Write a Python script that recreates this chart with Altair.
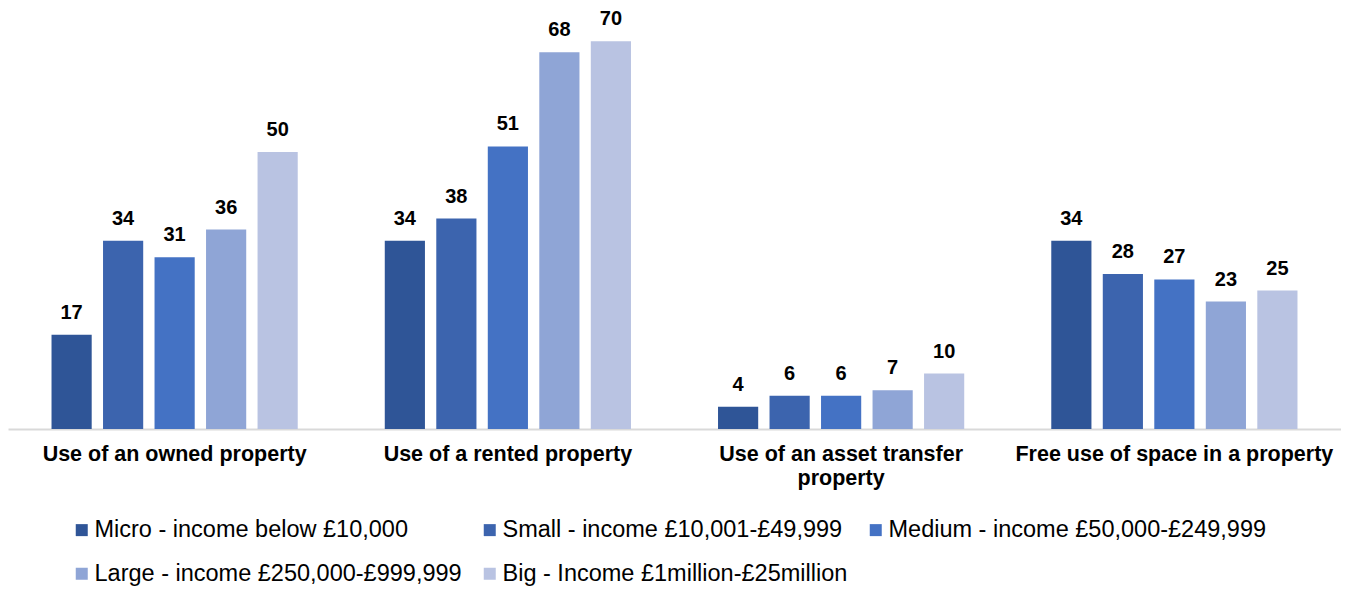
import altair as alt
import pandas as pd

categories = ["Use of an owned property", "Use of a rented property",
              "Use of an asset transfer property", "Free use of space in a property"]
series = ["Micro - income below £10,000", "Small - income £10,001-£49,999",
          "Medium - income £50,000-£249,999", "Large - income £250,000-£999,999",
          "Big - Income £1million-£25million"]
micro = [17, 34, 4, 34]
small = [34, 38, 6, 28]
medium = [31, 51, 6, 27]
large = [36, 68, 7, 23]
big = [50, 70, 10, 25]
colors = ["#2F5597", "#3C64AE", "#4472C4", "#8FA5D6", "#B9C3E2"]

rows = []
for s, vals in zip(series, [micro, small, medium, large, big]):
    for c, v in zip(categories, vals):
        rows.append({"category": c, "series": s, "value": v})
df = pd.DataFrame(rows)

font = "Liberation Sans"

x = alt.X("category:N", sort=categories, title=None,
          scale=alt.Scale(paddingInner=0, paddingOuter=0),
          axis=alt.Axis(labelAngle=0, labelFont=font, labelFontSize=21.5, labelFontWeight="bold",
                        labelColor="#000000", labelPadding=14, ticks=False,
                        domainColor="#D9D9D9", domainWidth=2, labelLimit=400,
                        labelLineHeight=24,
                        labelExpr="datum.label == 'Use of an asset transfer property' ? ['Use of an asset transfer', 'property'] : datum.label"))
xo = alt.XOffset("series:N", sort=series,
                 scale=alt.Scale(paddingInner=0.22, paddingOuter=0.845))
y = alt.Y("value:Q", scale=alt.Scale(domain=[0, 76], nice=False), axis=None)

base = alt.Chart(df).encode(x=x, xOffset=xo, y=y)

bars = base.mark_bar().encode(
    color=alt.Color("series:N", sort=series, scale=alt.Scale(domain=series, range=colors),
                    legend=alt.Legend(title=None, orient="none", legendX=62, legendY=510,
                                      direction="horizontal",
                                      columns=3, columnPadding=16, rowPadding=19,
                                      symbolType="square", symbolSize=144,
                                      symbolStrokeWidth=0, labelOffset=1,
                                      labelFont=font, labelFontSize=23.5,
                                      labelColor="#000000", labelLimit=600))
)
labels = base.mark_text(baseline="bottom", dy=-12, font=font, fontSize=20,
                        fontWeight="bold", color="#000000").encode(text="value:Q")

chart = (bars + labels).properties(width=1333, height=421, padding=0).configure_view(
    stroke=None).configure_axis(grid=False)

chart.save("out.html", embed_options={"renderer": "svg", "actions": False})
